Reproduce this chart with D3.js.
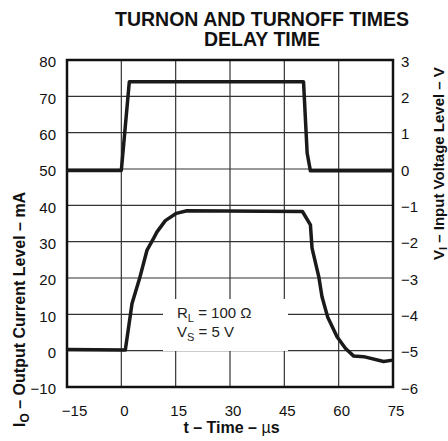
<!DOCTYPE html>
<html>
<head>
<meta charset="utf-8">
<script src="https://cdn.jsdelivr.net/npm/d3@7"></script>
<style>
  html, body { margin: 0; padding: 0; background: #fff; }
  svg { display: block; font-family: "Liberation Sans", Arial, Helvetica, sans-serif; }
</style>
</head>
<body>
<svg id="chart" width="448" height="441"></svg>
<script>
// ---- data ----
const xTicks = [-15, 0, 15, 30, 45, 60, 75];
const yLeftTicks = [-10, 0, 10, 20, 30, 40, 50, 60, 70, 80];
const yRightTicks = [-6, -5, -4, -3, -2, -1, 0, 1, 2, 3];

// Input voltage V_I (right axis, volts) vs time (µs)
const timeV = [-15, 0, 2.2, 50.3, 51.3, 52.2, 75];
const voltV = [-0.04, -0.04, 2.4, 2.4, 0.44, -0.05, -0.05];

// Output current I_O (left axis, mA) vs time (µs)
const timeI = [-15, 1.1, 2.95, 5.05, 7.1, 8.9, 9.85, 12.15, 15.2, 18.1, 50.0, 52.2, 52.65, 54.5, 55.4, 56.95, 59.55, 61.85, 64.15, 66.9, 72.4, 75];
const currI = [0.3, 0.2, 13.0, 19.9, 27.7, 30.9, 32.7, 35.8, 37.8, 38.5, 38.3, 34.6, 28.2, 20.4, 14.85, 9.3, 3.85, 0.65, -1.5, -1.65, -3.0, -2.6];

const titleLines = ["TURNON AND TURNOFF TIMES", "DELAY TIME"];

// ---- layout ----
const L = 67, R = 393, T = 60, B = 387;
const svg = d3.select("#chart");

const x = d3.scaleLinear().domain([-15, 75]).range([L, R]);
const yL = d3.scaleLinear().domain([-10, 80]).range([B, T]);
const yR = d3.scaleLinear().domain([-6, 3]).range([B, T]);

// grid
const grid = svg.append("g").attr("stroke", "#333").attr("stroke-width", 1.2);
grid.selectAll("line.v").data(xTicks).join("line")
  .attr("x1", d => x(d)).attr("x2", d => x(d)).attr("y1", T).attr("y2", B);
grid.selectAll("line.h").data(yLeftTicks).join("line")
  .attr("y1", d => yL(d)).attr("y2", d => yL(d)).attr("x1", L).attr("x2", R);

// white annotation box
svg.append("rect").attr("x", 163).attr("y", 299).attr("width", 125).attr("height", 52).attr("fill", "#fff");

// frame
svg.append("rect").attr("x", L).attr("y", T).attr("width", R - L).attr("height", B - T)
  .attr("fill", "none").attr("stroke", "#111").attr("stroke-width", 2.5);

// axes (labels only)
const tickFont = 15;
const fmt = d => d < 0 ? "\u2212" + Math.abs(d) : d;
const bottom = svg.append("g").attr("transform", `translate(0,${B})`)
  .call(d3.axisBottom(x).tickValues(xTicks).tickSize(0).tickPadding(18).tickFormat(fmt));
bottom.select(".domain").remove();
bottom.selectAll("text").attr("font-size", tickFont).attr("font-family", "Liberation Sans, Arial, sans-serif").attr("fill", "#111")
  .attr("dx", d => d === -15 ? 7 : 2.5);

const left = svg.append("g").attr("transform", `translate(${L},0)`)
  .call(d3.axisLeft(yL).tickValues(yLeftTicks).tickSize(0).tickPadding(11).tickFormat(fmt));
left.select(".domain").remove();
left.selectAll("text").attr("font-size", tickFont).attr("font-family", "Liberation Sans, Arial, sans-serif").attr("fill", "#111").attr("dy", "0.45em");

const right = svg.append("g").attr("transform", `translate(${R},0)`)
  .call(d3.axisRight(yR).tickValues(yRightTicks).tickSize(0).tickPadding(8).tickFormat(fmt));
right.select(".domain").remove();
right.selectAll("text").attr("font-size", tickFont).attr("font-family", "Liberation Sans, Arial, sans-serif").attr("fill", "#111").attr("dy", "0.4em");

// curves
const lineV = d3.line().x((d, i) => x(timeV[i])).y(d => yR(d));
svg.append("path").datum(voltV).attr("d", lineV)
  .attr("fill", "none").attr("stroke", "#1a1a1a").attr("stroke-width", 3.5).attr("stroke-linejoin", "round");

const lineI = d3.line().x((d, i) => x(timeI[i])).y(d => yL(d));
svg.append("path").datum(currI).attr("d", lineI)
  .attr("fill", "none").attr("stroke", "#1a1a1a").attr("stroke-width", 3.5).attr("stroke-linejoin", "round");

// annotation text
const ann = svg.append("g").attr("font-size", 15).attr("fill", "#222");
const a1 = ann.append("text").attr("x", 177).attr("y", 318);
a1.append("tspan").text("R");
a1.append("tspan").attr("font-size", 11).attr("dy", 4).text("L");
a1.append("tspan").attr("dy", -4).text(" = 100 \u03A9");
const a2 = ann.append("text").attr("x", 177).attr("y", 337);
a2.append("tspan").text("V");
a2.append("tspan").attr("font-size", 11).attr("dy", 4).text("S");
a2.append("tspan").attr("dy", -4).text(" = 5 V");

// title
svg.append("g").attr("font-size", 19.5).attr("font-weight", "bold").attr("text-anchor", "middle").attr("fill", "#111")
  .selectAll("text").data(titleLines).join("text")
  .attr("x", 262).attr("y", (d, i) => 25.5 + i * 20.5).text(d => d);

// x axis label
const xl = svg.append("text").attr("x", 231.5).attr("y", 433).attr("text-anchor", "middle")
  .attr("font-size", 16).attr("font-weight", "bold").attr("fill", "#111");
xl.append("tspan").text("t \u2013 Time \u2013 ");
xl.append("tspan").attr("font-weight", "normal").text("\u00B5");
xl.append("tspan").text("s");

// left y label
const yl = svg.append("text").attr("transform", "translate(25,427) rotate(-90)")
  .attr("font-size", 16).attr("font-weight", "bold").attr("fill", "#111");
yl.append("tspan").text("I");
yl.append("tspan").attr("font-size", 12).attr("dy", 4).text("O");
yl.append("tspan").attr("dy", -4).text(" \u2013 Output Current Level \u2013 mA");

// right y label
const yr = svg.append("text").attr("transform", "translate(444,260) rotate(-90)")
  .attr("font-size", 15).attr("font-weight", "bold").attr("fill", "#111");
yr.append("tspan").text("V");
yr.append("tspan").attr("font-size", 11).attr("dy", 3).text("I");
yr.append("tspan").attr("dy", -3).text(" \u2013 Input Voltage Level \u2013 V");
</script>
</body>
</html>
